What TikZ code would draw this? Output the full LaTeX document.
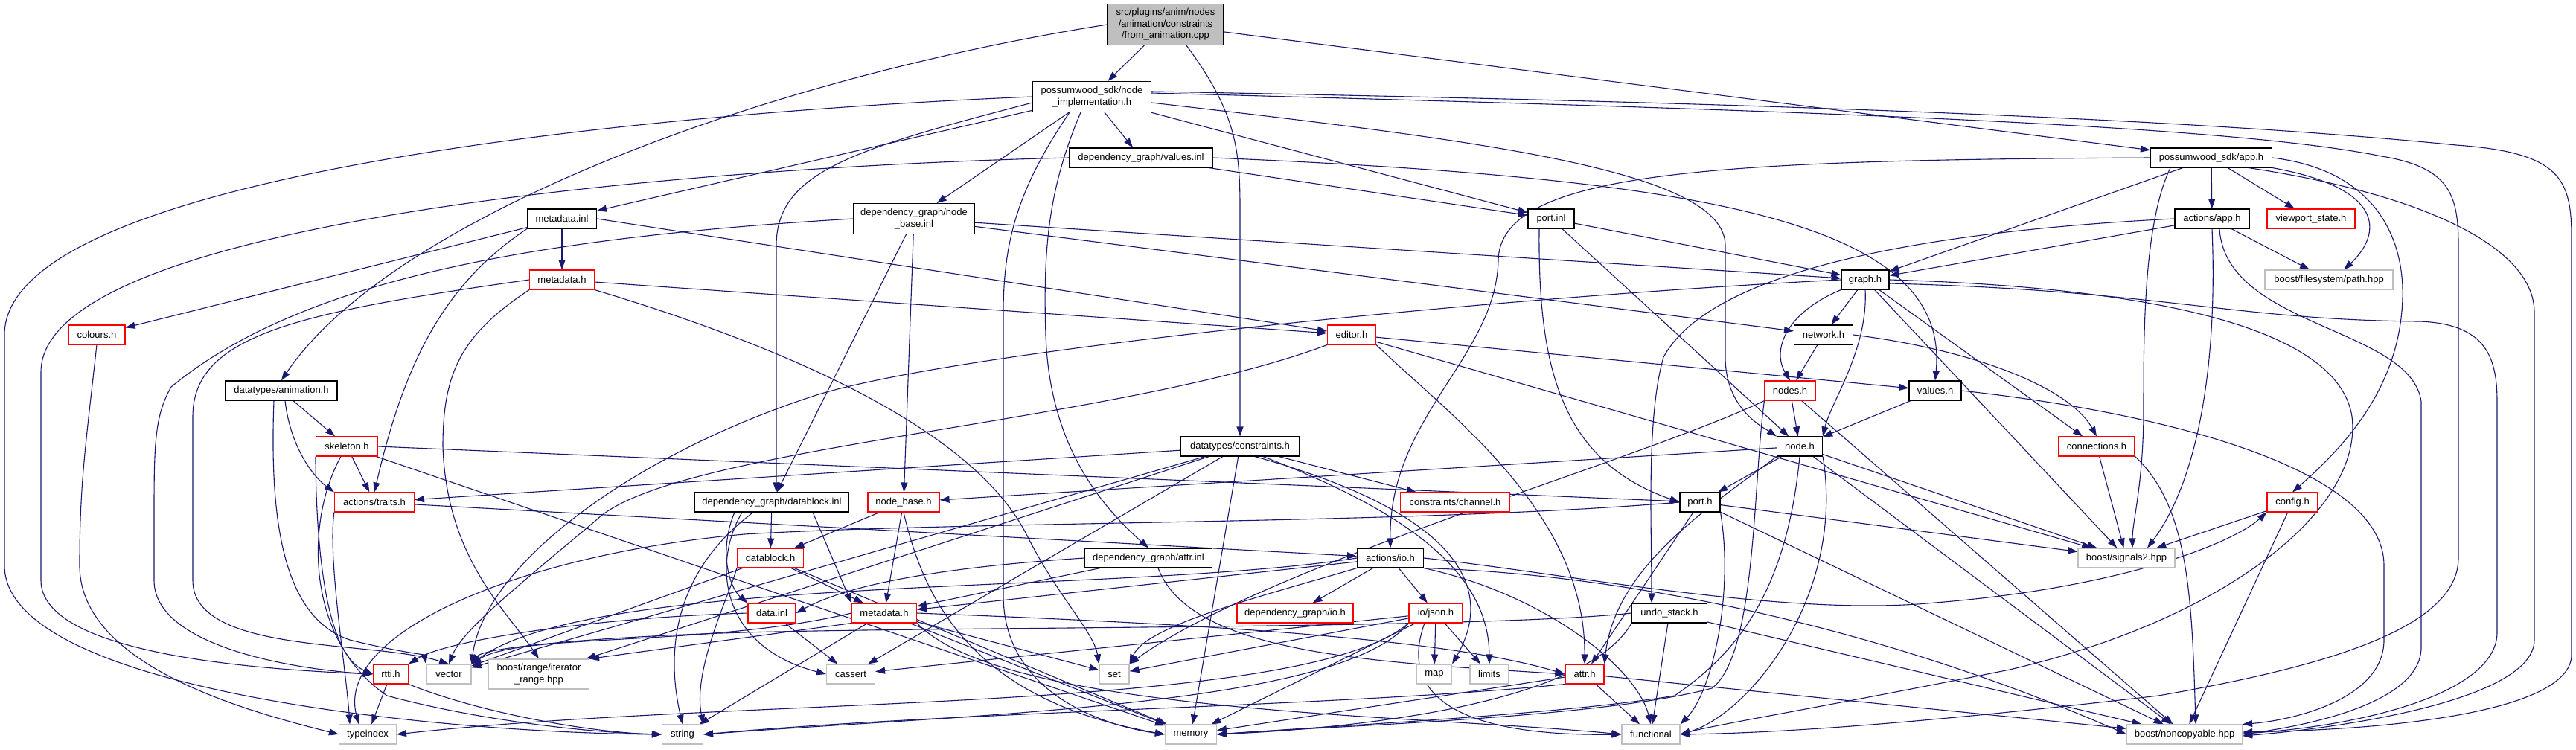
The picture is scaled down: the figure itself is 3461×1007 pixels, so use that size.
\documentclass[tikz,border=0pt]{standalone}
\usepackage{fontspec}
\setmainfont{Liberation Sans}
\usetikzlibrary{arrows.meta,backgrounds}
\definecolor{edgeblue}{HTML}{191970}
\definecolor{greyline}{HTML}{BFBFBF}
\definecolor{redline}{HTML}{FF0000}
\tikzset{
  box/.style={draw, line width=1.1pt, fill=white, inner sep=0pt, minimum height=26pt,
    align=center, text=black, font=\fontsize{13pt}{15.5pt}\selectfont},
  blk/.style={box, draw=black},
  redb/.style={box, draw=redline},
  gry/.style={box, draw=greyline},
  rootb/.style={box, draw=black, fill=greyline},
  edg/.style={draw=edgeblue, line width=1.1pt, -{Triangle[length=13pt,width=9pt]}},
}
\begin{document}
\begin{tikzpicture}[x=1pt,y=-1pt]
\useasboundingbox (0,0) rectangle (3461,1007);
% ---------------- nodes ----------------
\node[rootb,minimum width=156pt,minimum height=55pt] (R) at (1566,33) {src/plugins/anim/nodes\\/animation/constraints\\/from\_animation.cpp};
\node[blk,minimum width=159pt,minimum height=41pt] (NI) at (1467,130) {possumwood\_sdk/node\\\_implementation.h};
\node[blk,minimum width=192pt] (VI) at (1533,212) {dependency\_graph/values.inl};
\node[blk,minimum width=163pt] (APP) at (2971,212) {possumwood\_sdk/app.h};
\node[blk,minimum width=93pt] (MI) at (755,294) {metadata.inl};
\node[blk,minimum width=162pt,minimum height=41pt] (NBI) at (1228,294) {dependency\_graph/node\\\_base.inl};
\node[blk,minimum width=62pt] (PI) at (2084,294) {port.inl};
\node[blk,minimum width=100pt] (AA) at (2972,294) {actions/app.h};
\node[redb,minimum width=118pt] (VS) at (3105,294) {viewport\_state.h};
\node[redb,minimum width=87pt] (MH) at (755,376) {metadata.h};
\node[blk,minimum width=64pt] (GR) at (2506,376) {graph.h};
\node[gry,minimum width=172pt] (BFP) at (3129,376) {boost/filesystem/path.hpp};
\node[redb,minimum width=76pt] (COL) at (130,450) {colours.h};
\node[redb,minimum width=65pt] (ED) at (1816,450) {editor.h};
\node[blk,minimum width=79pt] (NW) at (2450,450) {network.h};
\node[blk,minimum width=150pt] (AN) at (378,525) {datatypes/animation.h};
\node[redb,minimum width=68pt] (NDS) at (2405,525) {nodes.h};
\node[blk,minimum width=70pt] (VH) at (2600,525) {values.h};
\node[redb,minimum width=83pt] (SK) at (466,600) {skeleton.h};
\node[blk,minimum width=159pt] (DC) at (1666,600) {datatypes/constraints.h};
\node[blk,minimum width=61pt] (NODE) at (2418,600) {node.h};
\node[redb,minimum width=102pt] (CONN) at (2817,600) {connections.h};
\node[redb,minimum width=107pt] (TR) at (503,675) {actions/traits.h};
\node[blk,minimum width=207pt] (DBI) at (1037,675) {dependency\_graph/datablock.inl};
\node[redb,minimum width=96pt] (NBH) at (1214,675) {node\_base.h};
\node[redb,minimum width=147pt] (CH) at (1955,675) {constraints/channel.h};
\node[blk,minimum width=54pt] (PORT) at (2284,675) {port.h};
\node[redb,minimum width=68pt] (CFG) at (3080,675) {config.h};
\node[redb,minimum width=89pt] (DBH) at (1035,750) {datablock.h};
\node[blk,minimum width=171pt] (ATI) at (1543,750) {dependency\_graph/attr.inl};
\node[blk,minimum width=89pt] (AIO) at (1868,750) {actions/io.h};
\node[gry,minimum width=130pt] (SIG) at (2857,750) {boost/signals2.hpp};
\node[redb,minimum width=64pt] (DATA) at (1037,824) {data.inl};
\node[redb,minimum width=87pt] (MH2) at (1188,824) {metadata.h};
\node[redb,minimum width=156pt] (DGIO) at (1740,824) {dependency\_graph/io.h};
\node[redb,minimum width=72pt] (JSON) at (1929,824) {io/json.h};
\node[blk,minimum width=101pt] (UNDO) at (2243,824) {undo\_stack.h};
\node[redb,minimum width=47pt] (RTTI) at (525,906) {rtti.h};
\node[gry,minimum width=60pt] (VEC) at (603,906) {vector};
\node[gry,minimum width=135pt,minimum height=40pt] (BRI) at (724,906) {boost/range/iterator\\\_range.hpp};
\node[gry,minimum width=65pt] (CAS) at (1143,906) {cassert};
\node[gry,minimum width=40pt] (SET) at (1497,906) {set};
\node[gry,minimum width=47pt] (MAP) at (1927,906) {map};
\node[gry,minimum width=52pt] (LIM) at (2001,906) {limits};
\node[redb,minimum width=52pt] (ATTR) at (2129,906) {attr.h};
\node[gry,minimum width=77pt] (TI) at (494,987) {typeindex};
\node[gry,minimum width=55pt] (STR) at (917,987) {string};
\node[gry,minimum width=69pt] (MEM) at (1600,987) {memory};
\node[gry,minimum width=78pt] (FUN) at (2218,987) {functional};
\node[gry,minimum width=155pt] (NONC) at (2935,987) {boost/noncopyable.hpp};
% ---------------- edges ----------------
\begin{pgfonlayer}{background}
\fill[white] (0,0) rectangle (3461,1007);
% root
\draw[edg] (R) -- (NI);
\draw[edg] (R.west) .. controls (1000,110) and (520,300) .. (AN.north);
\draw[edg] ([xshift=28pt]R.south) .. controls (1660,150) and (1666,200) .. (1666,280) -- (DC.north);
\draw[edg] (R) -- (APP);
% node_implementation.h
\draw[edg] (NI) -- (MI);
\draw[edg] (NI.west) .. controls (900,150) and (6,230) .. (6,450) -- (6,760) .. controls (6,930) and (600,985) .. (STR.west);
\draw[edg] ([yshift=-8pt]NI.west) .. controls (1150,200) and (1043,230) .. (1043,330) -- ([xshift=6pt]DBI.north);
\draw[edg] (NI) -- (NBI);
\draw[edg] ([xshift=-30pt]NI.south) .. controls (1370,250) and (1348,320) .. (1348,420) -- (1348,800) .. controls (1348,930) and (1480,975) .. (MEM.west);
\draw[edg] ([xshift=-15pt]NI.south) .. controls (1410,250) and (1401,330) .. (1405,450) .. controls (1410,600) and (1480,680) .. (ATI.north);
\draw[edg] (NI) -- (VI);
\draw[edg] (NI) -- (PI);
\draw[edg] ([yshift=-8pt]NI.east) .. controls (2000,190) and (2318,230) .. (2318,330) -- (2318,480) .. controls (2318,550) and (2370,575) .. (NODE.north west);
\draw[edg] ([yshift=7pt]NI.east) .. controls (2500,140) and (3000,165) .. (3300,195) .. controls (3440,205) and (3455,240) .. (3455,320) -- (3455,880) .. controls (3455,950) and (3250,980) .. ([yshift=3pt]NONC.east);
\draw[edg] ([yshift=5pt]NI.east) .. controls (2500,150) and (3000,170) .. (3200,210) .. controls (3290,225) and (3303,260) .. (3303,330) -- (3303,750) .. controls (3303,850) and (3100,900) .. (2900,935) .. controls (2600,970) and (2400,985) .. (FUN.east);
% values.inl
\draw[edg] (VI) -- (PI);
\draw[edg] (VI.east) .. controls (2300,240) and (2620,300) .. (VH.north);
\draw[edg] (VI.west) .. controls (900,225) and (55,300) .. (55,500) -- (55,780) .. controls (55,880) and (350,900) .. (RTTI.west);
% metadata.inl
\draw[edg] (MI) -- (COL);
\draw[edg] (MI) -- (MH);
\draw[edg] (MI.east) -- (ED);
\draw[edg] (MI.south west) .. controls (600,380) and (545,480) .. (TR.north);
% metadata.h (left)
\draw[edg] (MH) -- (ED);
\draw[edg] (MH.south east) .. controls (1000,450) and (1300,560) .. (1380,720) .. controls (1420,800) and (1470,850) .. (SET.north west);
\draw[edg] (MH.south west) .. controls (620,450) and (595,500) .. (595,600) .. controls (600,750) and (680,820) .. (BRI.north);
\draw[edg] (MH.west) .. controls (400,420) and (259,450) .. (259,560) -- (259,780) .. controls (259,880) and (500,860) .. (VEC.north);
% colours.h
\draw[edg] (COL.south) .. controls (115,600) and (107,650) .. (107,760) .. controls (107,900) and (350,960) .. (TI.west);
% node_base.inl
\draw[edg] (NBI) -- (DBI);
\draw[edg] (NBI) -- (NBH);
\draw[edg] (NBI) -- (GR);
\draw[edg] (NBI) -- (NW);
\draw[edg] (NBI.west) .. controls (700,320) and (400,380) .. (230,520) .. controls (207,560) and (207,600) .. (207,700) -- (207,780) .. controls (207,870) and (400,900) .. (RTTI.west);
% datablock.inl
\draw[edg] (DBI) -- (DBH);
\draw[edg] ([xshift=-50pt]DBI.south) .. controls (965,740) and (980,790) .. (DATA.north west);
\draw[edg] ([xshift=55pt]DBI.south) -- (MH2.north west);
\draw[edg] ([xshift=-40pt]DBI.south) .. controls (955,760) and (970,870) .. (CAS.west);
\draw[edg] ([xshift=-25pt]DBI.south) .. controls (890,780) and (900,900) .. (STR.north);
% datablock.h
\draw[edg] (DBH) -- (VEC);
\draw[edg] (DBH) -- (MH2);
\draw[edg] (DBH) -- (MEM);
\draw[edg] (DBH.south west) .. controls (980,800) and (930,900) .. (STR.north east);
% data.inl
\draw[edg] (DATA.west) .. controls (800,830) and (600,860) .. (RTTI.north east);
\draw[edg] (DATA) -- (CAS);
% metadata.h (dependency_graph)
\draw[edg] (MH2) -- (SET);
\draw[edg] (MH2) -- (MEM);
\draw[edg] (MH2.east) .. controls (1650,840) and (1950,860) .. (ATTR.west);
\draw[edg] (MH2.south east) .. controls (1350,960) and (1900,960) .. (FUN.west);
\draw[edg] (MH2.west) .. controls (950,870) and (700,850) .. (VEC.north east);
\draw[edg] (MH2) -- (STR);
\draw[edg] (MH2.south west) -- (BRI.north east);
% node_base.h
\draw[edg] (NBH) -- (DBH);
\draw[edg] (NBH) -- (MH2);
\draw[edg] (NBH.south) .. controls (1240,800) and (1300,940) .. (MEM.west);
% constraints.h
\draw[edg] (DC) -- (TR);
\draw[edg] (DC) -- (VEC);
\draw[edg] (DC) -- (BRI);
\draw[edg] (DC) -- (CH);
\draw[edg] ([xshift=20pt]DC.south) .. controls (1960,690) and (2010,790) .. (MAP.north east);
\draw[edg] ([xshift=31pt]DC.south) .. controls (1870,680) and (2000,760) .. (LIM.north);
\draw[edg] (DC) -- (CAS);
\draw[edg] (DC) -- (MEM);
% attr.inl
\draw[edg] (ATI) -- (MH2);
\draw[edg] ([xshift=13pt]ATI.south) .. controls (1600,880) and (1850,890) .. (ATTR.west);
\draw[edg] (ATI.west) .. controls (1300,760) and (1150,780) .. (DATA.east);
% actions/io.h
\draw[edg] (AIO) -- (MH2);
\draw[edg] (AIO.south west) .. controls (1700,800) and (1540,840) .. (SET.north east);
\draw[edg] (AIO) -- (DGIO);
\draw[edg] (AIO) -- (JSON);
\draw[edg] (AIO.south east) .. controls (2080,800) and (2200,900) .. (FUN.north);
\draw[edg] (AIO.west) .. controls (1500,800) and (800,770) .. (VEC.north east);
\draw[edg] (AIO.east) .. controls (2100,770) and (2400,830) .. (2600,810) .. controls (2850,790) and (3000,730) .. (CFG.south west);
\draw[edg] (AIO.south east) .. controls (2150,770) and (2500,830) .. (NONC.west);
% io/json.h
\draw[edg] (JSON) -- (MAP);
\draw[edg] (JSON) -- (LIM);
\draw[edg] (JSON) -- (SET);
\draw[edg] (JSON) -- (CAS);
\draw[edg] (JSON) -- (MEM);
\draw[edg] ([xshift=-15pt]JSON.south) .. controls (1880,930) and (1950,990) .. (FUN.west);
\draw[edg] (JSON.south west) .. controls (1800,950) and (1300,960) .. (STR.east);
\draw[edg] (JSON.south west) .. controls (1750,960) and (1000,935) .. (TI.east);
% undo_stack.h
\draw[edg] (UNDO) -- (FUN);
\draw[edg] (UNDO) -- (NONC);
\draw[edg] (UNDO.south west) .. controls (2140,930) and (1900,975) .. (MEM.east);
\draw[edg] (UNDO.west) .. controls (2000,845) and (1300,842) .. (1000,850) .. controls (800,856) and (650,870) .. (VEC.north east);
% attr.h
\draw[edg] (ATTR) -- (MEM);
\draw[edg] (ATTR) -- (FUN);
\draw[edg] (ATTR) -- (NONC);
\draw[edg] (ATTR.south west) .. controls (1800,950) and (1300,955) .. (STR.east);
% port.h
\draw[edg] (PORT) -- (ATTR);
\draw[edg] (PORT) -- (SIG);
\draw[edg] (PORT) -- (NONC);
\draw[edg] (PORT.south east) .. controls (2330,800) and (2300,930) .. (FUN.north east);
\draw[edg] (PORT.west) .. controls (1900,705) and (1300,700) .. (1000,718) .. controls (700,745) and (450,850) .. ([xshift=-12pt]TI.north);
% node.h
\draw[edg] (NODE) -- (NBH);
\draw[edg] (NODE) -- (PORT);
\draw[edg] (NODE) -- (SIG);
\draw[edg] (NODE) -- (NONC);
\draw[edg] (NODE.south) .. controls (2400,800) and (2330,880) .. (2250,935) .. controls (2100,960) and (1800,975) .. (MEM.east);
\draw[edg] (NODE.south east) .. controls (2480,800) and (2350,960) .. (FUN.east);
\draw[edg] (NODE.south west) .. controls (2300,680) and (2170,760) .. (ATTR.north east);
% nodes.h
\draw[edg] (NDS) -- (NODE);
\draw[edg] (NDS) -- (NONC);
\draw[edg] (NDS.south west) .. controls (2355,650) and (2360,880) .. (2300,925) .. controls (2150,965) and (1800,975) .. (MEM.east);
\draw[edg] (NDS.south west) .. controls (2200,620) and (1700,760) .. (SET.north east);
% values.h
\draw[edg] (VH) -- (NODE);
\draw[edg] (VH.east) .. controls (2950,560) and (3203,640) .. (3203,760) -- (3203,860) .. controls (3203,940) and (3080,968) .. (NONC.north east);
% network.h
\draw[edg] (NW) -- (NDS);
\draw[edg] (NW.east) .. controls (2650,470) and (2780,520) .. (CONN.north);
% graph.h
\draw[edg] (GR) -- (NW);
\draw[edg] (GR.south west) .. controls (2400,420) and (2380,470) .. (NDS.north);
\draw[edg] (GR.south) .. controls (2510,470) and (2460,540) .. (NODE.north east);
\draw[edg] (GR) -- (SIG);
\draw[edg] (GR) -- (CONN);
\draw[edg] (GR.east) .. controls (2850,385) and (3140,430) .. (3160,560) .. controls (3175,680) and (3000,830) .. (2700,900) .. controls (2450,950) and (2300,975) .. (FUN.east);
\draw[edg] ([yshift=-5pt]GR.east) .. controls (2900,390) and (3000,430) .. (3250,432) .. controls (3340,435) and (3355,480) .. (3355,540) -- (3355,850) .. controls (3355,930) and (3180,975) .. ([yshift=1pt]NONC.east);
\draw[edg] (GR.west) .. controls (2000,400) and (1300,470) .. (1100,530) .. controls (850,610) and (650,760) .. (VEC.north east);
% connections.h, config.h
\draw[edg] (CONN) -- (SIG);
\draw[edg] (CONN.south east) .. controls (2940,680) and (2945,800) .. ([xshift=15pt]NONC.north);
\draw[edg] (CFG) -- (SIG);
\draw[edg] (CFG) -- (NONC);
% actions/app.h
\draw[edg] (AA) -- (GR);
\draw[edg] (AA.west) .. controls (2600,310) and (2300,360) .. (2235,480) .. controls (2212,560) and (2219,700) .. ([xshift=-24pt]UNDO.north);
\draw[edg] (AA) -- (BFP);
\draw[edg] (AA.south) .. controls (2980,500) and (2950,650) .. ([xshift=28pt]SIG.north);
\draw[edg] ([xshift=10pt]AA.south) .. controls (2990,440) and (3240,440) .. (3253,540) -- (3253,870) .. controls (3253,945) and (3100,975) .. (NONC.east);
% possumwood_sdk/app.h
\draw[edg] (APP) -- (AA);
\draw[edg] (APP) -- (VS);
\draw[edg] (APP.south east) .. controls (3215,255) and (3195,320) .. ([xshift=20pt]BFP.north);
\draw[edg] (APP) -- (GR);
\draw[edg] (APP.west) .. controls (2300,215) and (2015,230) .. (2013,350) .. controls (2010,480) and (1866,560) .. (AIO.north);
\draw[edg] ([xshift=-55pt]APP.south) .. controls (2880,300) and (2880,450) .. (2880,550) .. controls (2880,650) and (2865,700) .. ([xshift=8pt]SIG.north);
\draw[edg] ([xshift=50pt]APP.south) .. controls (3250,260) and (3405,330) .. (3405,420) -- (3405,860) .. controls (3405,940) and (3150,978) .. ([yshift=-2pt]NONC.east);
\draw[edg] (APP.east) .. controls (3200,230) and (3230,330) .. (3228,400) .. controls (3225,520) and (3150,600) .. (CFG.north);
% editor.h
\draw[edg] (ED.south west) .. controls (1500,570) and (900,600) .. (800,700) .. controls (680,800) and (620,850) .. (VEC.north);
\draw[edg] (ED.south east) .. controls (1950,560) and (2130,690) .. (ATTR.north);
\draw[edg] (ED) -- (SIG);
\draw[edg] (ED) -- (VH);
% port.inl
\draw[edg] ([xshift=-16pt]PI.south) .. controls (2066,500) and (2100,620) .. (PORT.west);
\draw[edg] (PI) -- (NODE);
\draw[edg] (PI) -- (GR);
% rtti.h
\draw[edg] (RTTI) -- (TI);
\draw[edg] (RTTI.south east) .. controls (650,960) and (800,985) .. (STR.west);
% actions/traits.h
\draw[edg] (TR.south west) .. controls (440,750) and (465,900) .. ([xshift=-24pt]TI.north);
\draw[edg] (TR) -- (AIO);
% skeleton.h
\draw[edg] (SK) -- (TR);
\draw[edg] (SK.south west) .. controls (425,750) and (440,880) .. (RTTI.west);
\draw[edg] ([xshift=-8pt]SK.south) .. controls (410,700) and (410,860) .. (520,935) .. controls (650,970) and (800,985) .. (STR.west);
\draw[edg] (SK.east) -- (PORT);
\draw[edg] (SK) -- (MEM);
% animation.h
\draw[edg] (AN) -- (SK);
\draw[edg] ([xshift=5pt]AN.south) .. controls (390,600) and (420,640) .. (TR.north west);
\draw[edg] ([xshift=-10pt]AN.south) .. controls (362,700) and (380,830) .. (470,860) .. controls (530,875) and (570,880) .. (VEC.north west);
\end{pgfonlayer}
\end{tikzpicture}
\end{document}
